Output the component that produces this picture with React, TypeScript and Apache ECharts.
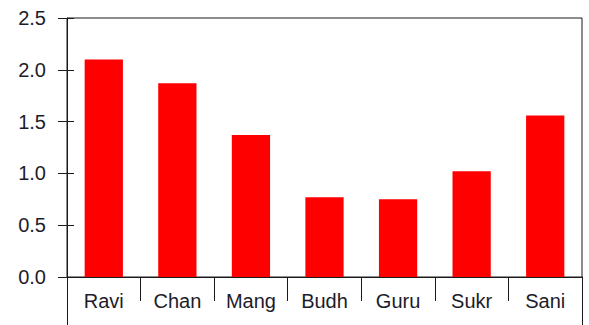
import React, { useEffect, useRef } from "react";
import * as echarts from "echarts";

const categories: string[] = ["Ravi", "Chan", "Mang", "Budh", "Guru", "Sukr", "Sani"];
const values: number[] = [2.1, 1.87, 1.37, 0.77, 0.75, 1.02, 1.56];
const yMin = 0;
const yMax = 2.5;
const yStep = 0.5;

const LINE = "#1a1a1a";
const TEXT = "#1c1c2a";
const FONT = "'Liberation Sans', Arial, sans-serif";

const edgeAxis = (position: "left" | "right") => ({
  type: "value",
  gridIndex: 1,
  position,
  min: 0,
  max: 1,
  axisLine: { show: true, lineStyle: { color: LINE, width: 1 } },
  axisTick: { show: false },
  axisLabel: { show: false },
  splitLine: { show: false },
});

export default function App() {
  const ref = useRef<HTMLDivElement>(null);
  useEffect(() => {
    if (!ref.current) return;
    const chart = echarts.init(ref.current, undefined, { renderer: "svg" });
    chart.setOption({
      animation: false,
      backgroundColor: "#ffffff",
      grid: [
        {
          left: 67,
          right: 7,
          top: 18,
          bottom: 48,
          show: true,
          borderColor: LINE,
          borderWidth: 1,
          backgroundColor: "transparent",
        },
        {
          left: 67,
          right: 7,
          top: 277,
          bottom: 0,
          show: false,
        },
      ],
      xAxis: [
        {
          type: "category",
          gridIndex: 0,
          data: categories,
          boundaryGap: true,
          axisLine: { show: true, lineStyle: { color: LINE, width: 1 } },
          axisTick: { show: true, length: 24, lineStyle: { color: LINE, width: 1 } },
          axisLabel: {
            show: true,
            margin: 14,
            color: TEXT,
            fontSize: 20,
            fontFamily: FONT,
            interval: 0,
          },
          splitLine: { show: false },
        },
        {
          type: "category",
          gridIndex: 1,
          data: categories,
          show: false,
        },
      ],
      yAxis: [
        {
          type: "value",
          gridIndex: 0,
          min: yMin,
          max: yMax,
          interval: yStep,
          axisLine: { show: true, lineStyle: { color: LINE, width: 1 } },
          axisTick: { show: true, length: 9, lineStyle: { color: LINE, width: 1 } },
          axisLabel: {
            show: true,
            margin: 21,
            color: TEXT,
            fontSize: 20,
            fontFamily: FONT,
            formatter: (v: number) => v.toFixed(1),
          },
          splitLine: { show: false },
        },
        {
          type: "value",
          gridIndex: 0,
          position: "left",
          min: yMin,
          max: yMax,
          interval: yStep,
          axisLine: { show: false },
          axisTick: { show: true, inside: true, length: 7, lineStyle: { color: LINE, width: 1 } },
          axisLabel: { show: false },
          splitLine: { show: false },
        },
        edgeAxis("left"),
        edgeAxis("right"),
      ],
      series: [
        {
          type: "bar",
          xAxisIndex: 0,
          yAxisIndex: 0,
          data: values,
          barWidth: "52%",
          itemStyle: { color: "#ff0000" },
        },
      ],
    });
    return () => chart.dispose();
  }, []);
  return (
    <div
      ref={ref}
      style={{ position: "absolute", left: 0, top: 0, width: 589, height: 325 }}
    />
  );
}
